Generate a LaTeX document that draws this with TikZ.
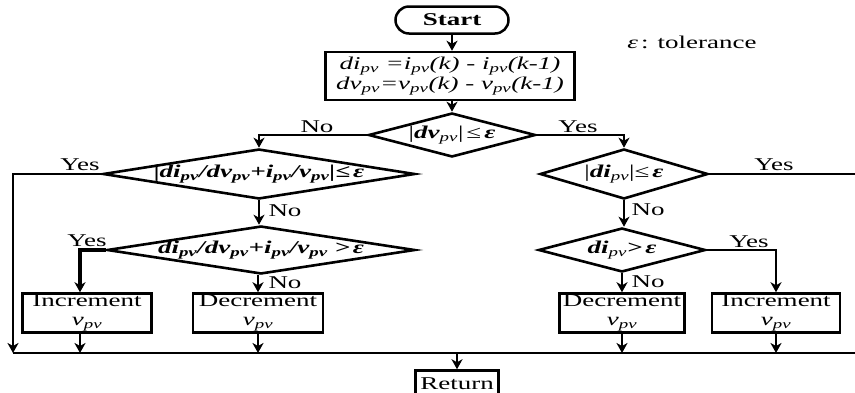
\documentclass[tikz,border=0pt]{standalone}
\usepackage{fontspec}
\setmainfont{Liberation Serif}[FakeStretch=1.5]
\usetikzlibrary{shapes.geometric,arrows.meta}
\newcommand{\pvb}{\textsubscript{\itshape pv}}
\newcommand{\pvr}{\textsubscript{\mdseries\itshape pv}}
\begin{document}
\begin{tikzpicture}[x=1pt,y=-1pt,line width=2.3pt,
  arr/.style={-{Stealth[length=10pt,width=11pt,inset=3pt]}},
  box/.style={draw,rectangle,inner sep=0pt,align=center,line width=2.5pt},
  dia/.style={draw,diamond,inner sep=0pt,line width=2.6pt},
  every node/.style={font=\fontsize{18}{19}\selectfont}]
\useasboundingbox (0,0) rectangle (855,392);
% nodes
\node[box,rounded corners=13.5pt,minimum width=113pt,minimum height=27pt] (start) at (452,20) {\textbf{Start}};
\node[box,minimum width=249pt,minimum height=48pt] (proc) at (450,76)
  {\itshape di\pvb\ =i\pvb(k) - i\pvb(k-1)\\[1pt]\itshape dv\pvb=v\pvb(k) - v\pvb(k-1)};
\node[dia,minimum width=167pt,minimum height=44pt,
  label={center:{|\textbf{\textit{dv}}\pvr|\,≤\,\textbf{\textit{ε}}}}] (d1) at (452,135) {};
\node[dia,minimum width=312pt,minimum height=50pt,
  label={center:{\bfseries\itshape |di\pvb/dv\pvb+i\pvb/v\pvb|≤\,ε}}] (d2) at (259,174) {};
\node[dia,minimum width=308pt,minimum height=48pt,
  label={center:{\bfseries\itshape di\pvb/dv\pvb+i\pvb/v\pvb\ >\,ε}}] (d3) at (261,250) {};
\node[dia,minimum width=168pt,minimum height=50pt,
  label={center:{|\textbf{\textit{di}}\pvr|≤\,\textbf{\textit{ε}}}}] (d4) at (624,174) {};
\node[dia,minimum width=167pt,minimum height=44pt,
  label={center:{\textbf{\textit{di}}\pvr\textbf{\textit{>\,ε}}}}] (d5) at (622,250) {};
\node[box,minimum width=129pt,minimum height=39pt] (inc1) at (87,313) {Increment\\\itshape v\pvb};
\node[box,minimum width=130pt,minimum height=39pt] (dec1) at (258,313) {Decrement\\\itshape v\pvb};
\node[box,minimum width=125pt,minimum height=39pt] (dec2) at (622,313) {Decrement\\\itshape v\pvb};
\node[box,minimum width=128pt,minimum height=39pt] (inc2) at (776,313) {Increment\\\itshape v\pvb};
\node[box,minimum width=83pt,minimum height=27pt] (ret) at (457,384) {Return};
\node[inner sep=0pt] (tol) at (692,42) {\textit{ε}\,: tolerance};
\coordinate (busL) at (13,353);
\coordinate (busR) at (870,353);
\coordinate (edgeR) at (861,174);
% labels
\node[inner sep=0pt] (l1) at (317,127) {No};
\node[inner sep=0pt] (l2) at (578,127) {Yes};
\node[inner sep=0pt] (l3) at (80,165) {Yes};
\node[inner sep=0pt] (l4) at (774,165) {Yes};
\node[inner sep=0pt] (l5) at (285,211) {No};
\node[inner sep=0pt] (l6) at (87,241) {Yes};
\node[inner sep=0pt] (l7) at (285,283) {No};
\node[inner sep=0pt] (l8) at (648,210) {No};
\node[inner sep=0pt] (l9) at (749,242) {Yes};
\node[inner sep=0pt] (l10) at (648,282) {No};
% connectors
\draw[arr] (start.south -| d1.north) -- (proc.north -| d1.north);
\draw[arr] (proc.south -| d1.north) -- (d1.north);
\draw[arr] (d1.west) -| (d2.north);
\draw[arr] (d1.east) -| (d4.north);
\draw[arr] (d2.west) -| (busL);
\draw[arr] (d2.south) -- (d2.south |- d3.north);
\draw[arr,line width=3.2pt] (d3.west) -| ([xshift=-7pt]inc1.north);
\draw[arr] (d3.south -| dec1.north) -- (dec1.north);
\draw[arr] (d4.south) -- (d4.south |- d5.north);
\draw[arr] (d5.east) -| (inc2.north);
\draw[arr] (d5.south -| dec2.north) -- (dec2.north);
\draw[arr] (d4.east) -- (edgeR) -- (edgeR |- busL);
\draw (busL) -- (busR);
\draw[arr] ([xshift=-7pt]inc1.south) -- ([xshift=-7pt]inc1.south |- busL);
\draw[arr] (dec1.south) -- (dec1.south |- busL);
\draw[arr] (dec2.south) -- (dec2.south |- busL);
\draw[arr] (inc2.south) -- (inc2.south |- busL);
\draw[arr] (ret.north |- busL) -- (ret.north);
\end{tikzpicture}
\end{document}
